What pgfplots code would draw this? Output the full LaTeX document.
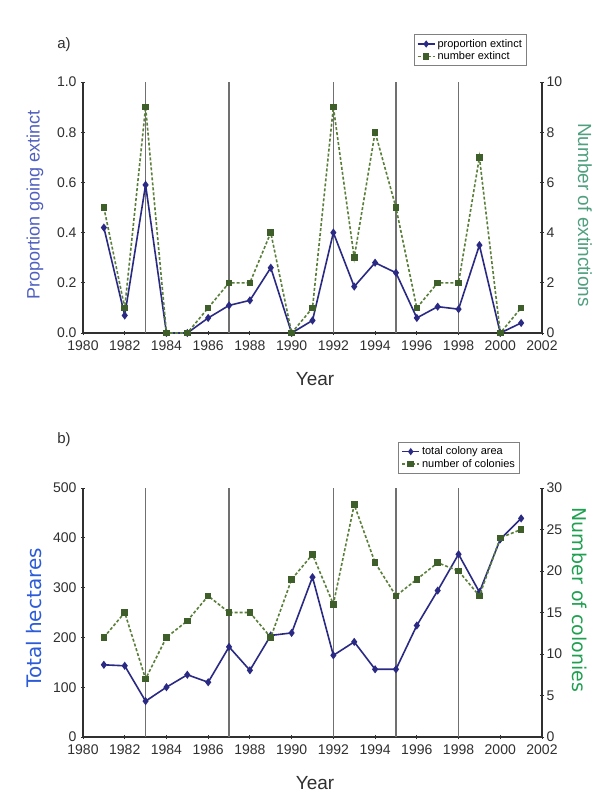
\documentclass[border=0pt]{standalone}
\usepackage{fontspec}
\setmainfont{Liberation Sans}
\newfontfamily\dejavu{DejaVu Sans}
\usepackage{pgfplots}
\usepackage{pgfplotstable}
\pgfplotsset{compat=1.18}
\definecolor{bl}{HTML}{2A2A85}
\definecolor{gm}{HTML}{3F5F2A}
\definecolor{gl}{HTML}{5A7F3A}
\definecolor{vl}{HTML}{707070}
\definecolor{ax}{HTML}{303030}
\definecolor{lblue}{HTML}{5060C0}
\definecolor{lgreen}{HTML}{50A080}
\definecolor{tblue}{HTML}{2B5BD8}
\definecolor{tgreen}{HTML}{1FA050}

\pgfplotstableread{
year prop num
1981 0.42 5
1982 0.07 1
1983 0.59 9
1984 0.00 0
1985 0.00 0
1986 0.06 1
1987 0.11 2
1988 0.13 2
1989 0.26 4
1990 0.00 0
1991 0.05 1
1992 0.40 9
1993 0.185 3
1994 0.28 8
1995 0.24 5
1996 0.06 1
1997 0.105 2
1998 0.095 2
1999 0.35 7
2000 0.00 0
2001 0.04 1
}\extinct

\pgfplotstableread{
year area colonies
1981 145 12
1982 143 15
1983 72 7
1984 100 12
1985 125 14
1986 110 17
1987 181 15
1988 134 15
1989 204 12
1990 209 19
1991 321 22
1992 164 16
1993 191 28
1994 136 21
1995 136 17
1996 224 19
1997 294 21
1998 367 20
1999 291 17
2000 397 24
2001 439 25
}\colonies

\pgfplotsset{
 base/.style={scale only axis, width=459pt, xmin=1980, xmax=2002,
   xtick={1980,1982,...,2002},
   /pgf/number format/assume math mode=true,
   /pgf/number format/1000 sep={},
   tick label style={font=\fontsize{14}{16}\selectfont, text=ax},
   xticklabel style={yshift=-2pt},
   yticklabel style={xshift=-1pt},
   axis line style={ax, line width=1.7pt},
   tick style={ax, line width=1pt}, major tick length=4pt, tick align=center,
   clip=false},
 lg/.style={legend style={font=\fontsize{11}{12}\selectfont, draw=gray, line width=0.9pt,
   inner sep=2.5pt, row sep=-1pt, legend cell align=left}, legend cell align=left},
 bluep/.style={bl, line width=1.6pt, mark=diamond*, mark size=2.8pt, mark options={fill=bl}},
 greenp/.style={gl, line width=1.6pt, dash pattern=on 3pt off 2pt, mark=square*, mark size=2.5pt, mark options={solid, fill=gm, draw=gm}},
 vline/.style={vl, line width=1.3pt, forget plot, mark=none},
}

\begin{document}
\begin{tikzpicture}
\useasboundingbox (0,0) rectangle (603pt,-809pt);
\fill[white] (0,0) rectangle (603pt,-809pt);

% ---------- panel a ----------
\begin{axis}[base, at={(83pt,-333pt)}, anchor=south west, height=251pt,
  ymin=0, ymax=1, ytick={0,0.2,0.4,0.6,0.8,1},
  yticklabel style={/pgf/number format/.cd, fixed, fixed zerofill, precision=1},
  axis x line*=bottom, axis y line*=left]
\addplot[vline] coordinates {(1983,0) (1983,1)};
\addplot[vline] coordinates {(1987,0) (1987,1)};
\addplot[vline] coordinates {(1992,0) (1992,1)};
\addplot[vline] coordinates {(1995,0) (1995,1)};
\addplot[vline] coordinates {(1998,0) (1998,1)};
\addplot[bluep] table[x=year, y=prop] {\extinct};
\end{axis}
\begin{axis}[base, lg, at={(83pt,-333pt)}, anchor=south west, height=251pt,
  ymin=0, ymax=10, ytick={0,2,4,6,8,10},
  axis x line=none, axis y line*=right,
  legend style={at={(0.967,1.19)}, anchor=north east}]
\addlegendimage{bl, line width=1.3pt, mark=diamond*, mark size=2.6pt}
\addlegendentry{proportion extinct}
\addplot[greenp] table[x=year, y=num] {\extinct};
\addlegendentry{number extinct}
\end{axis}

% ---------- panel b ----------
\begin{axis}[base, at={(83pt,-737pt)}, anchor=south west, height=249pt,
  ymin=0, ymax=500, ytick={0,100,200,300,400,500},
  axis x line*=bottom, axis y line*=left]
\addplot[vline] coordinates {(1983,0) (1983,500)};
\addplot[vline] coordinates {(1987,0) (1987,500)};
\addplot[vline] coordinates {(1992,0) (1992,500)};
\addplot[vline] coordinates {(1995,0) (1995,500)};
\addplot[vline] coordinates {(1998,0) (1998,500)};
\addplot[bluep] table[x=year, y=area] {\colonies};
\end{axis}
\begin{axis}[base, lg, at={(83pt,-737pt)}, anchor=south west, height=249pt,
  ymin=0, ymax=30, ytick={0,5,10,15,20,25,30},
  axis x line=none, axis y line*=right,
  legend style={at={(0.952,1.185)}, anchor=north east}]
\addlegendimage{bl, line width=1.3pt, mark=diamond*, mark size=2.6pt}
\addlegendentry{total colony area}
\addplot[greenp] table[x=year, y=colonies] {\colonies};
\addlegendentry{number of colonies}
\end{axis}

% ---------- labels ----------
\node[font=\fontsize{15}{17}\selectfont, text=ax] at (64pt,-45pt) {a)};
\node[font=\fontsize{15}{17}\selectfont, text=ax] at (64pt,-440pt) {b)};
\node[rotate=90, text=lblue, font=\fontsize{18}{20}\selectfont] at (35pt,-205pt) {Proportion going extinct};
\node[rotate=-90, text=lgreen, font=\fontsize{19}{21}\selectfont] at (585pt,-215pt) {Number of extinctions};
\node[font=\fontsize{19}{21}\selectfont, text=ax] at (315pt,-379pt) {Year};
\node[font=\fontsize{19}{21}\selectfont, text=ax] at (315pt,-783pt) {Year};
\node[rotate=90, text=tblue, font=\dejavu\fontsize{20}{22}\selectfont, fill=white, inner sep=1pt] at (34pt,-618pt) {Total hectares};
\node[rotate=-90, text=tgreen, font=\dejavu\fontsize{19}{21}\selectfont, fill=white, inner sep=1pt] at (580pt,-600pt) {Number of colonies};
\end{tikzpicture}
\end{document}
